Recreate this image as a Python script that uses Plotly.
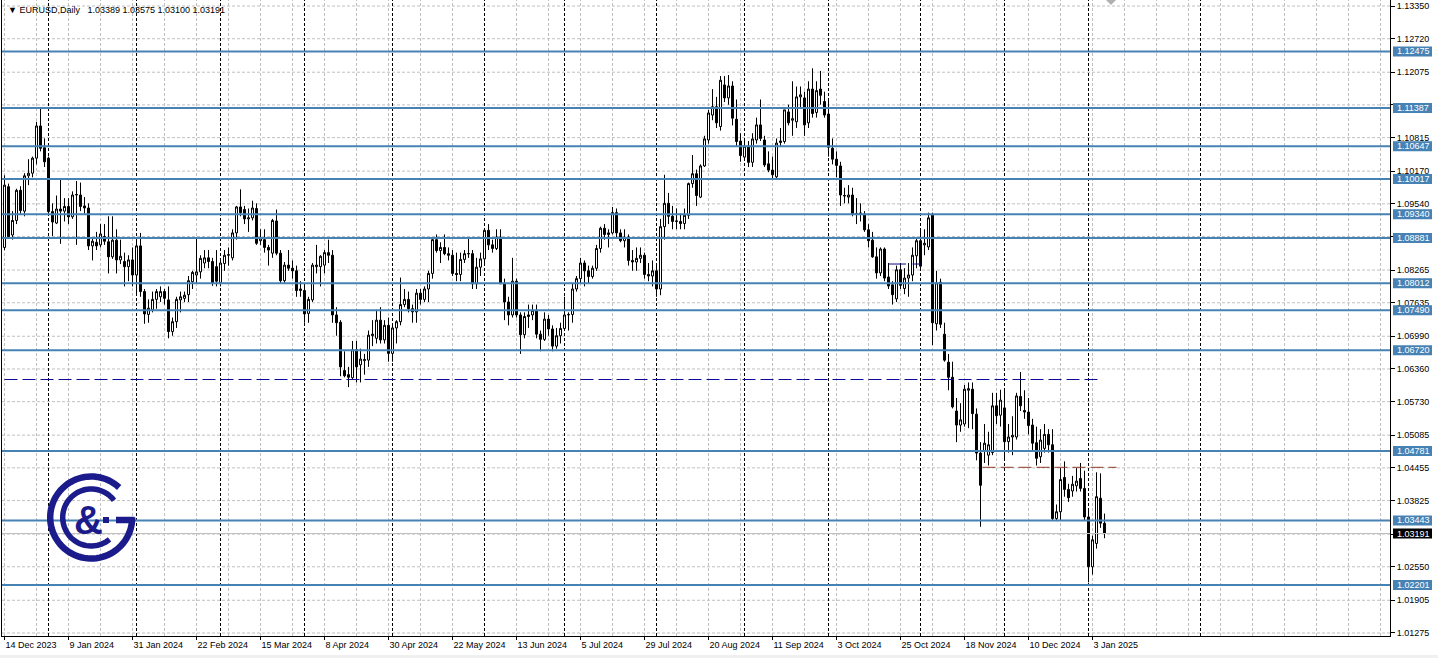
import math
import plotly.graph_objects as go

# ---------------- data (EURUSD daily) ----------------
opens = [
    1.0870, 1.0987, 1.0894, 1.0922, 1.0980, 1.0940, 1.1008, 1.1013, 1.1042, 1.1104,
    1.1062, 1.1042, 1.0939, 1.0917, 1.0944, 1.0940, 1.0949, 1.0929, 1.0971, 1.0971,
    1.0950, 1.0946, 1.0873, 1.0880, 1.0875, 1.0891, 1.0881, 1.0852, 1.0884, 1.0846,
    1.0843, 1.0833, 1.0846, 1.0817, 1.0873, 1.0785, 1.0741, 1.0750, 1.0770, 1.0775,
    1.0785, 1.0769, 1.0708, 1.0727, 1.0769, 1.0772, 1.0779, 1.0804, 1.0817, 1.0823,
    1.0840, 1.0850, 1.0843, 1.0833, 1.0802, 1.0839, 1.0855, 1.0850, 1.0898, 1.0948,
    1.0943, 1.0925, 1.0927, 1.0945, 1.0883, 1.0885, 1.0870, 1.0859, 1.0921, 1.0859,
    1.0806, 1.0836, 1.0830, 1.0825, 1.0787, 1.0787, 1.0743, 1.0769, 1.0833, 1.0833,
    1.0836, 1.0860, 1.0855, 1.0740, 1.0726, 1.0633, 1.0625, 1.0619, 1.0673, 1.0644,
    1.0652, 1.0653, 1.0700, 1.0695, 1.0730, 1.0692, 1.0720, 1.0666, 1.0715, 1.0727,
    1.0760, 1.0770, 1.0752, 1.0746, 1.0782, 1.0770, 1.0790, 1.0820, 1.0885, 1.0864,
    1.0870, 1.0858, 1.0855, 1.0820, 1.0818, 1.0847, 1.0858, 1.0858, 1.0800, 1.0832,
    1.0848, 1.0903, 1.0875, 1.0868, 1.0890, 1.0800, 1.0765, 1.0740, 1.0805, 1.0740,
    1.0702, 1.0737, 1.0740, 1.0749, 1.0703, 1.0693, 1.0732, 1.0713, 1.0680, 1.0700,
    1.0714, 1.0740, 1.0741, 1.0790, 1.0810, 1.0840, 1.0825, 1.0814, 1.0830, 1.0868,
    1.0907, 1.0895, 1.0898, 1.0937, 1.0898, 1.0883, 1.0890, 1.0845, 1.0842, 1.0849,
    1.0855, 1.0818, 1.0815, 1.0825, 1.0790, 1.0910, 1.0955, 1.0930, 1.0920, 1.0920,
    1.0916, 1.0932, 1.0993, 1.1012, 1.0967, 1.1027, 1.1077, 1.1125, 1.1141, 1.1103,
    1.1183, 1.1158, 1.1181, 1.1117, 1.1075, 1.1044, 1.1065, 1.1034, 1.1077, 1.1106,
    1.1077, 1.1031, 1.1019, 1.1006, 1.1072, 1.1074, 1.1131, 1.1115, 1.1112, 1.1160,
    1.1158, 1.1110, 1.1175, 1.1130, 1.1175, 1.1151, 1.1127, 1.1061, 1.1040, 1.1027,
    1.0969, 1.0967, 1.0971, 1.0935, 1.0934, 1.0934, 1.0904, 1.0884, 1.0852, 1.0821,
    1.0867, 1.0813, 1.0798, 1.0771, 1.0827, 1.0791, 1.0811, 1.0817, 1.0854, 1.0883,
    1.0875, 1.0871, 1.0932, 1.0723, 1.0803, 1.0703, 1.0649, 1.0620, 1.0555, 1.0528,
    1.0530, 1.0595, 1.0597, 1.0549, 1.0474, 1.0479, 1.0470, 1.0475, 1.0565, 1.0547,
    1.0561, 1.0496, 1.0505, 1.0505, 1.0583, 1.0556, 1.0553, 1.0528, 1.0494, 1.0467,
    1.0483, 1.0510, 1.0490, 1.0348, 1.0361, 1.0427, 1.0404, 1.0401, 1.0411, 1.0425,
    1.0406, 1.0351, 1.0255, 1.0300, 1.0387, 1.03389,
]
highs = [
    1.1009, 1.0993, 1.0940, 1.0983, 1.0988, 1.1013, 1.1040, 1.1045, 1.1112, 1.1140,
    1.1080, 1.1045, 1.0955, 1.0970, 1.1000, 1.0965, 1.0965, 1.0978, 1.0998, 1.0995,
    1.0967, 1.0955, 1.0890, 1.0900, 1.0915, 1.0915, 1.0930, 1.0930, 1.0905, 1.0885,
    1.0860, 1.0855, 1.0870, 1.0889, 1.0898, 1.0790, 1.0770, 1.0785, 1.0790, 1.0795,
    1.0790, 1.0795, 1.0735, 1.0775, 1.0785, 1.0785, 1.0815, 1.0825, 1.0889, 1.0855,
    1.0865, 1.0865, 1.0850, 1.0865, 1.0845, 1.0865, 1.0870, 1.0905, 1.0950, 1.0982,
    1.0950, 1.0945, 1.0960, 1.0955, 1.0905, 1.0905, 1.0875, 1.0925, 1.0943, 1.0865,
    1.0842, 1.0865, 1.0845, 1.0835, 1.0805, 1.0800, 1.0775, 1.0840, 1.0875, 1.0855,
    1.0865, 1.0885, 1.0865, 1.0755, 1.0730, 1.0670, 1.0640, 1.0690, 1.0690, 1.0675,
    1.0665, 1.0710, 1.0730, 1.0750, 1.0755, 1.0730, 1.0735, 1.0720, 1.0730, 1.0812,
    1.0790, 1.0785, 1.0760, 1.0790, 1.0790, 1.0795, 1.0825, 1.0890, 1.0895, 1.0880,
    1.0895, 1.0870, 1.0865, 1.0860, 1.0860, 1.0865, 1.0890, 1.0865, 1.0850, 1.0860,
    1.0905, 1.0915, 1.0885, 1.0905, 1.0905, 1.0810, 1.0775, 1.0850, 1.0810, 1.0745,
    1.0745, 1.0760, 1.0760, 1.0760, 1.0710, 1.0745, 1.0740, 1.0720, 1.0715, 1.0725,
    1.0775, 1.0745, 1.0800, 1.0815, 1.0850, 1.0845, 1.0835, 1.0835, 1.0875, 1.0910,
    1.0915, 1.0905, 1.0948, 1.0945, 1.0905, 1.0905, 1.0895, 1.0865, 1.0870, 1.0870,
    1.0860, 1.0840, 1.0845, 1.0835, 1.0925, 1.1010, 1.0975, 1.0950, 1.0945, 1.0935,
    1.0945, 1.0995, 1.1048, 1.1020, 1.1030, 1.1085, 1.1135, 1.1175, 1.1160, 1.1200,
    1.1200, 1.1202, 1.1190, 1.1155, 1.1090, 1.1080, 1.1075, 1.1090, 1.1120, 1.1155,
    1.1085, 1.1055, 1.1045, 1.1080, 1.1100, 1.1135, 1.1145, 1.1190, 1.1180, 1.1180,
    1.1170, 1.1190, 1.1215, 1.1190, 1.1210, 1.1170, 1.1155, 1.1080, 1.1055, 1.1035,
    1.0985, 1.0990, 1.0985, 1.0965, 1.0955, 1.0940, 1.0915, 1.0900, 1.0870, 1.0870,
    1.0870, 1.0840, 1.0805, 1.0835, 1.0840, 1.0830, 1.0840, 1.0870, 1.0888, 1.0905,
    1.0905, 1.0937, 1.0937, 1.0825, 1.0810, 1.0725, 1.0665, 1.0650, 1.0580, 1.0570,
    1.0605, 1.0610, 1.0610, 1.0560, 1.0495, 1.0530, 1.0515, 1.0590, 1.0590, 1.0596,
    1.0595, 1.0530, 1.0545, 1.0590, 1.0630, 1.0595, 1.0580, 1.0540, 1.0525, 1.0520,
    1.0530, 1.0520, 1.0520, 1.0375, 1.0445, 1.0458, 1.0415, 1.0430, 1.0445, 1.0455,
    1.0440, 1.0365, 1.0315, 1.0437, 1.0435, 1.03575,
]
lows = [
    1.0865, 1.0888, 1.0885, 1.0915, 1.0935, 1.0930, 1.0990, 1.1005, 1.1030, 1.1055,
    1.1025, 1.0935, 1.0892, 1.0915, 1.0877, 1.0920, 1.0915, 1.0925, 1.0875, 1.0940,
    1.0935, 1.0865, 1.0845, 1.0865, 1.0870, 1.0875, 1.0820, 1.0848, 1.0820, 1.0838,
    1.0795, 1.0805, 1.0795, 1.0780, 1.0775, 1.0723, 1.0725, 1.0745, 1.0752, 1.0765,
    1.0760, 1.0695, 1.0700, 1.0715, 1.0745, 1.0765, 1.0765, 1.0790, 1.0800, 1.0810,
    1.0830, 1.0830, 1.0796, 1.0795, 1.0795, 1.0825, 1.0835, 1.0845, 1.0885, 1.0930,
    1.0915, 1.0900, 1.0922, 1.0875, 1.0875, 1.0860, 1.0835, 1.0850, 1.0855, 1.0800,
    1.0800, 1.0825, 1.0810, 1.0775, 1.0775, 1.0725, 1.0725, 1.0765, 1.0820, 1.0795,
    1.0820, 1.0840, 1.0725, 1.0700, 1.0622, 1.0620, 1.0601, 1.0615, 1.0610, 1.0610,
    1.0625, 1.0640, 1.0680, 1.0685, 1.0685, 1.0685, 1.0650, 1.0650, 1.0685, 1.0720,
    1.0755, 1.0745, 1.0725, 1.0725, 1.0760, 1.0765, 1.0765, 1.0810, 1.0860, 1.0840,
    1.0855, 1.0845, 1.0815, 1.0805, 1.0805, 1.0840, 1.0850, 1.0790, 1.0790, 1.0815,
    1.0835, 1.0865, 1.0860, 1.0865, 1.0800, 1.0730, 1.0720, 1.0735, 1.0735, 1.0665,
    1.0695, 1.0715, 1.0730, 1.0695, 1.0670, 1.0690, 1.0700, 1.0670, 1.0675, 1.0685,
    1.0710, 1.0710, 1.0725, 1.0785, 1.0800, 1.0795, 1.0800, 1.0810, 1.0825, 1.0860,
    1.0885, 1.0870, 1.0895, 1.0890, 1.0880, 1.0870, 1.0835, 1.0825, 1.0825, 1.0840,
    1.0810, 1.0805, 1.0795, 1.0775, 1.0778, 1.0885, 1.0915, 1.0905, 1.0905, 1.0905,
    1.0905, 1.0925, 1.0985, 1.0950, 1.0965, 1.1025, 1.1070, 1.1115, 1.1100, 1.1095,
    1.1150, 1.1145, 1.1105, 1.1065, 1.1035, 1.1040, 1.1025, 1.1025, 1.1070, 1.1075,
    1.1025, 1.1015, 1.1002, 1.1000, 1.1065, 1.1070, 1.1105, 1.1085, 1.1100, 1.1140,
    1.1085, 1.1100, 1.1120, 1.1120, 1.1145, 1.1120, 1.1045, 1.1030, 1.1005, 1.0950,
    1.0955, 1.0955, 1.0930, 1.0915, 1.0920, 1.0900, 1.0870, 1.0850, 1.0810, 1.0815,
    1.0805, 1.0790, 1.0760, 1.0765, 1.0790, 1.0780, 1.0775, 1.0805, 1.0830, 1.0830,
    1.0855, 1.0865, 1.0682, 1.0710, 1.0715, 1.0650, 1.0595, 1.0560, 1.0495, 1.0515,
    1.0525, 1.0522, 1.0520, 1.0460, 1.0332, 1.0455, 1.0450, 1.0470, 1.0530, 1.0525,
    1.0460, 1.0475, 1.0470, 1.0500, 1.0555, 1.0540, 1.0510, 1.0480, 1.0450, 1.0455,
    1.0475, 1.0475, 1.0345, 1.0343, 1.0345, 1.0390, 1.0380, 1.0390, 1.0400, 1.0400,
    1.0345, 1.0225, 1.0240, 1.0290, 1.0330, 1.03100,
]
closes = [
    1.0990, 1.0891, 1.0922, 1.0980, 1.0941, 1.1008, 1.1013, 1.1042, 1.1104, 1.1061,
    1.1035, 1.0939, 1.0919, 1.0944, 1.0940, 1.0949, 1.0929, 1.0971, 1.0972, 1.0949,
    1.0946, 1.0873, 1.0882, 1.0873, 1.0896, 1.0882, 1.0852, 1.0884, 1.0846, 1.0853,
    1.0833, 1.0846, 1.0817, 1.0873, 1.0785, 1.0742, 1.0753, 1.0770, 1.0785, 1.0785,
    1.0772, 1.0708, 1.0727, 1.0770, 1.0775, 1.0778, 1.0806, 1.0822, 1.0823, 1.0849,
    1.0850, 1.0843, 1.0801, 1.0805, 1.0840, 1.0855, 1.0856, 1.0898, 1.0948, 1.0937,
    1.0925, 1.0927, 1.0946, 1.0878, 1.0888, 1.0870, 1.0865, 1.0922, 1.0859, 1.0806,
    1.0836, 1.0830, 1.0825, 1.0787, 1.0790, 1.0742, 1.0770, 1.0836, 1.0836, 1.0853,
    1.0860, 1.0855, 1.0740, 1.0725, 1.0640, 1.0623, 1.0620, 1.0673, 1.0640, 1.0655,
    1.0654, 1.0701, 1.0703, 1.0730, 1.0692, 1.0720, 1.0666, 1.0715, 1.0727, 1.0760,
    1.0770, 1.0752, 1.0746, 1.0782, 1.0770, 1.0790, 1.0820, 1.0885, 1.0864, 1.0870,
    1.0858, 1.0855, 1.0820, 1.0818, 1.0847, 1.0858, 1.0858, 1.0800, 1.0832, 1.0848,
    1.0903, 1.0875, 1.0868, 1.0890, 1.0800, 1.0765, 1.0740, 1.0805, 1.0740, 1.0702,
    1.0737, 1.0740, 1.0749, 1.0703, 1.0693, 1.0732, 1.0713, 1.0680, 1.0700, 1.0714,
    1.0740, 1.0741, 1.0790, 1.0810, 1.0840, 1.0825, 1.0814, 1.0830, 1.0868, 1.0907,
    1.0895, 1.0898, 1.0937, 1.0898, 1.0883, 1.0890, 1.0845, 1.0842, 1.0849, 1.0855,
    1.0818, 1.0815, 1.0825, 1.0790, 1.0910, 1.0955, 1.0930, 1.0920, 1.0921, 1.0916,
    1.0932, 1.0993, 1.1012, 1.0970, 1.1027, 1.1079, 1.1129, 1.1141, 1.1110, 1.1192,
    1.1158, 1.1181, 1.1119, 1.1074, 1.1047, 1.1065, 1.1034, 1.1079, 1.1106, 1.1080,
    1.1029, 1.1019, 1.1010, 1.1071, 1.1075, 1.1135, 1.1110, 1.1118, 1.1160, 1.1164,
    1.1106, 1.1175, 1.1128, 1.1172, 1.1163, 1.1125, 1.1063, 1.1040, 1.1028, 1.0971,
    1.0970, 1.0971, 1.0934, 1.0934, 1.0936, 1.0904, 1.0883, 1.0852, 1.0821, 1.0867,
    1.0811, 1.0796, 1.0779, 1.0827, 1.0797, 1.0811, 1.0817, 1.0855, 1.0883, 1.0834,
    1.0878, 1.0927, 1.0725, 1.0802, 1.0722, 1.0653, 1.0620, 1.0563, 1.0528, 1.0538,
    1.0597, 1.0598, 1.0550, 1.0474, 1.0412, 1.0493, 1.0490, 1.0565, 1.0546, 1.0576,
    1.0496, 1.0505, 1.0508, 1.0584, 1.0565, 1.0553, 1.0527, 1.0493, 1.0464, 1.0499,
    1.0510, 1.0490, 1.0348, 1.0361, 1.0423, 1.0404, 1.0388, 1.0414, 1.0420, 1.0406,
    1.0351, 1.0255, 1.0307, 1.0390, 1.0339, 1.03191,
]

tick_labels = ["14 Dec 2023", "9 Jan 2024", "31 Jan 2024", "22 Feb 2024", "15 Mar 2024",
               "8 Apr 2024", "30 Apr 2024", "22 May 2024", "13 Jun 2024", "5 Jul 2024",
               "29 Jul 2024", "20 Aug 2024", "11 Sep 2024", "3 Oct 2024", "25 Oct 2024",
               "18 Nov 2024", "10 Dec 2024", "3 Jan 2025"]
tick_index = [0, 16, 32, 48, 64, 80, 96, 112, 128, 144, 160, 176, 192, 208, 224, 240, 256, 272]
month_starts = [11, 33, 54, 75, 97, 120, 140, 163, 185, 206, 229, 250, 271, 299]

price_ticks = [1.13350, 1.12720, 1.12075, 1.11445, 1.10815, 1.10170, 1.09540, 1.08910,
               1.08265, 1.07635, 1.06990, 1.06360, 1.05730, 1.05085, 1.04455, 1.03825,
               1.03180, 1.02550, 1.01905, 1.01275]
hidden_ticks = [1.11445, 1.08910, 1.03180]
levels = [1.12475, 1.11387, 1.10647, 1.10017, 1.09340, 1.08881, 1.08012, 1.07490,
          1.06720, 1.04781, 1.03443, 1.02201]
last_price = closes[-1]
support_level = 1.06157       # long navy dashed line
support_span = [0, 274]
resist_level = 1.04466        # short red dashed line
resist_span = [244.5, 278]
mini_level = 1.08381          # tiny navy segment
mini_spans = [[221, 225.4], [227, 229]]

# ---------------- geometry ----------------
W, H = 1438, 658
ML, MR, MT, MB = 2, 48, 0, 22
PW, PH = W - ML - MR, H - MT - MB
Y_TOP, Y_BOT = 1.134656, 1.012171
X0 = -0.625
X1 = X0 + PW / 4.0

def px(x):
    return (x - ML) / PW

def py(y):
    return 1 - (y - MT) / PH

FONT = "Liberation Sans, Arial, sans-serif"
NAVY = "#1b1b8b"
STEEL = "#4682B4"

fig = go.Figure()
fig.add_trace(go.Candlestick(
    x=list(range(len(closes))), open=opens, high=highs, low=lows, close=closes,
    increasing=dict(line=dict(color="black", width=1), fillcolor="white"),
    decreasing=dict(line=dict(color="black", width=1), fillcolor="black"),
    whiskerwidth=0, hoverinfo="skip", showlegend=False,
))

shapes = []
# grid
for k in range(0, 345, 8):
    shapes.append(dict(type="line", xref="x", yref="paper", x0=k, x1=k, y0=0, y1=1,
                       line=dict(color="#C0C0C0", width=1, dash="3px,2px"), layer="below"))
for v in price_ticks:
    shapes.append(dict(type="line", xref="paper", yref="y", x0=0, x1=1, y0=v, y1=v,
                       line=dict(color="#C0C0C0", width=1, dash="3px,2px"), layer="below"))
for m in month_starts:
    shapes.append(dict(type="line", xref="x", yref="paper", x0=m, x1=m, y0=0, y1=1,
                       line=dict(color="black", width=1, dash="3px,2px"), layer="below"))
# last price line
shapes.append(dict(type="line", xref="paper", yref="y", x0=0, x1=1, y0=last_price, y1=last_price,
                   line=dict(color="#C0C0C0", width=1), layer="above"))
# levels
for v in levels:
    shapes.append(dict(type="line", xref="paper", yref="y", x0=0, x1=1, y0=v, y1=v,
                       line=dict(color=STEEL, width=2), layer="above"))
# dashed lines
shapes.append(dict(type="line", xref="x", yref="y", x0=support_span[0], x1=support_span[1],
                   y0=support_level, y1=support_level,
                   line=dict(color="#0a0a9a", width=1, dash="13px,5px"), layer="above"))
shapes.append(dict(type="line", xref="x", yref="y", x0=resist_span[0], x1=resist_span[1],
                   y0=resist_level, y1=resist_level,
                   line=dict(color="#8f3a2a", width=1, dash="13px,5px"), layer="above"))
for a, b in mini_spans:
    shapes.append(dict(type="line", xref="x", yref="y", x0=a, x1=b, y0=mini_level, y1=mini_level,
                       line=dict(color="#0a0a8a", width=1), layer="above"))

# price boxes on the axis
bh = 5.0 / (PH / (Y_TOP - Y_BOT))
annotations = []
for v in levels:
    shapes.append(dict(type="rect", xref="paper", yref="y", x0=px(1393), x1=px(1432),
                       y0=v - bh, y1=v + bh, fillcolor=STEEL, line=dict(width=0), layer="above"))
    annotations.append(dict(xref="paper", yref="y", x=px(1395), y=v, xanchor="left", yanchor="middle",
                            text=f"{v:.5f}", showarrow=False,
                            font=dict(family=FONT, size=9, color="white")))
shapes.append(dict(type="rect", xref="paper", yref="y", x0=px(1393), x1=px(1432),
                   y0=last_price - bh, y1=last_price + bh, fillcolor="black",
                   line=dict(width=0), layer="above"))
annotations.append(dict(xref="paper", yref="y", x=px(1395), y=last_price, xanchor="left",
                        yanchor="middle", text=f"{last_price:.5f}", showarrow=False,
                        font=dict(family=FONT, size=9, color="white")))

# header
annotations.append(dict(xref="paper", yref="paper", x=px(6), y=py(10), xanchor="left", yanchor="middle",
                        text=("\u25bc EURUSD,Daily\u00a0\u00a0 " +
                              f"{opens[-1]:.5f} {highs[-1]:.5f} {lows[-1]:.5f} {closes[-1]:.5f}"),
                        showarrow=False, font=dict(family=FONT, size=9, color="black")))

# chart-shift marker
shapes.append(dict(type="path", xref="paper", yref="paper",
                   path=f"M{px(1106)},{py(0)} L{px(1116)},{py(0)} L{px(1111)},{py(5)} Z",
                   fillcolor="#B0B0B0", line=dict(width=0), layer="above"))

# bottom strip
shapes.append(dict(type="rect", xref="paper", yref="paper", x0=px(0), x1=px(W), y0=py(655), y1=py(H),
                   fillcolor="#F0F0F0", line=dict(width=0), layer="above"))

# logo
def arc(cx, cy, r, a0, a1, n=72):
    pts = []
    for k in range(n + 1):
        a = math.radians(a0 + (a1 - a0) * k / n)
        pts.append(f"{px(cx + r * math.cos(a)):.5f},{py(cy - r * math.sin(a)):.5f}")
    return "M" + " L".join(pts)

LCX, LCY = 91.2, 517.5
shapes.append(dict(type="path", xref="paper", yref="paper", path=arc(LCX, LCY, 41.0, 47, 360),
                   line=dict(color=NAVY, width=6.5), fillcolor="rgba(0,0,0,0)", layer="above"))
shapes.append(dict(type="path", xref="paper", yref="paper", path=arc(LCX, LCY, 28.5, 37, 310),
                   line=dict(color=NAVY, width=5.5), fillcolor="rgba(0,0,0,0)", layer="above"))
shapes.append(dict(type="line", xref="paper", yref="paper", x0=px(116), x1=px(134.5),
                   y0=py(520), y1=py(520), line=dict(color=NAVY, width=6.5), layer="above"))
shapes.append(dict(type="line", xref="paper", yref="paper", x0=px(103), x1=px(109),
                   y0=py(520), y1=py(520), line=dict(color=NAVY, width=6), layer="above"))
annotations.append(dict(xref="paper", yref="paper", x=px(88.5), y=py(520), xanchor="center",
                        yanchor="middle", text="&amp;", showarrow=False,
                        font=dict(family="Liberation Sans Narrow, Liberation Sans, Arial", size=40,
                                  color=NAVY, weight="bold")))

y_text = ["" if v in hidden_ticks else f"{v:.5f}" for v in price_ticks]

fig.update_layout(
    template="none",
    width=W, height=H,
    margin=dict(l=ML, r=MR, t=MT, b=MB, pad=0),
    paper_bgcolor="white", plot_bgcolor="white",
    showlegend=False,
    boxgap=0.5, boxgroupgap=0,
    shapes=shapes, annotations=annotations,
    xaxis=dict(
        range=[X0, X1], automargin=False, showgrid=False, zeroline=False,
        rangeslider=dict(visible=False),
        showline=True, linecolor="black", linewidth=1,
        tickmode="array", tickvals=tick_index, ticktext=tick_labels,
        ticks="outside", ticklen=3, tickcolor="black", tickwidth=1,
        ticklabelposition="outside right",
        tickfont=dict(family=FONT, size=9, color="black"),
        fixedrange=True,
    ),
    yaxis=dict(
        range=[Y_BOT, Y_TOP], automargin=False, side="right", showgrid=False, zeroline=False,
        showline=True, mirror=True, linecolor="black", linewidth=1,
        tickmode="array", tickvals=price_ticks, ticktext=y_text,
        ticks="outside", ticklen=4, tickcolor="black", tickwidth=1,
        tickfont=dict(family=FONT, size=9, color="black"),
        fixedrange=True,
    ),
)

fig.write_html("out.html", config={"displayModeBar": False},
               post_script="document.body.style.margin='0px';document.body.style.overflow='hidden';")
